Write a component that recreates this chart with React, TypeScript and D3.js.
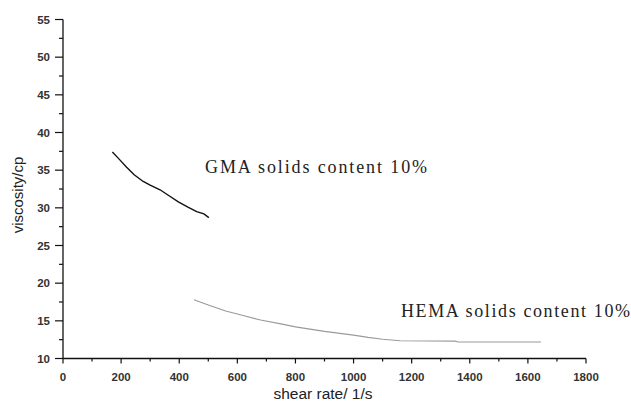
import { useEffect, useRef } from "react";
import * as d3 from "d3";

// values
const gmaShear = [170, 190, 219, 245, 276, 300, 334, 365, 397, 430, 460, 485, 502];
const gmaVisc = [37.4, 36.6, 35.4, 34.4, 33.5, 33.0, 32.4, 31.6, 30.8, 30.1, 29.5, 29.2, 28.7];

const hemaShear = [451, 500, 560, 620, 680, 750, 800, 900, 1000, 1050, 1100, 1160, 1350, 1360, 1645];
const hemaVisc = [17.8, 17.1, 16.3, 15.7, 15.1, 14.6, 14.2, 13.6, 13.1, 12.8, 12.55, 12.35, 12.3, 12.2, 12.2];

const xTicks = [0, 200, 400, 600, 800, 1000, 1200, 1400, 1600, 1800];
const yTicks = [10, 15, 20, 25, 30, 35, 40, 45, 50, 55];

const gmaLabel = "GMA solids content 10%";
const hemaLabel = "HEMA solids content 10%";

const App = () => {
    const svgRef = useRef<SVGSVGElement>(null);

    useEffect(() => {
        const svg = d3.select(svgRef.current);
        svg.selectAll("*").remove();

        const x = d3.scaleLinear().domain([0, 1800]).range([63, 586]);
        const y = d3.scaleLinear().domain([10, 55]).range([358.5, 19.5]);
        const axisFont = "Arial, 'Liberation Sans', sans-serif";

        // x axis: minor every 100, labels every 200, ticks pointing down
        const xa = svg.append("g").attr("transform", `translate(0,${y(10)})`);
        xa.append("line").attr("x1", x(0)).attr("x2", x(1800)).attr("stroke", "#111").attr("stroke-width", 1.3);
        d3.range(0, 1801, 100).forEach((v) => {
            const major = v % 200 === 0;
            xa.append("line")
                .attr("x1", x(v)).attr("x2", x(v))
                .attr("y1", 0).attr("y2", major ? 5 : 3)
                .attr("stroke", "#111").attr("stroke-width", 1.2);
        });
        xTicks.forEach((v) => {
            xa.append("text")
                .attr("x", x(v)).attr("y", 22)
                .attr("text-anchor", "middle")
                .attr("font-family", axisFont).attr("font-size", 11.5)
                .attr("font-weight", 600)
                .attr("fill", "#333")
                .text(v);
        });

        // y axis: minor every 2.5, labels every 5, ticks pointing left
        const ya = svg.append("g").attr("transform", `translate(${x(0)},0)`);
        ya.append("line").attr("y1", y(10)).attr("y2", y(55)).attr("stroke", "#111").attr("stroke-width", 1.3);
        d3.range(10, 55.1, 2.5).forEach((v) => {
            const major = v % 5 === 0;
            ya.append("line")
                .attr("y1", y(v)).attr("y2", y(v))
                .attr("x1", major ? -8 : -4).attr("x2", 0)
                .attr("stroke", "#111").attr("stroke-width", 1.2);
        });
        yTicks.forEach((v) => {
            ya.append("text")
                .attr("x", -13).attr("y", y(v) + 4)
                .attr("text-anchor", "end")
                .attr("font-family", axisFont).attr("font-size", 11.5)
                .attr("font-weight", 600)
                .attr("fill", "#333")
                .text(v);
        });

        // axis titles
        svg.append("text")
            .attr("transform", `translate(23,195) rotate(-90)`)
            .attr("text-anchor", "middle")
            .attr("font-family", axisFont).attr("font-size", 15)
            .attr("fill", "#222")
            .text("viscosity/cp");
        svg.append("text")
            .attr("x", 323).attr("y", 399)
            .attr("text-anchor", "middle")
            .attr("font-family", axisFont).attr("font-size", 15.5)
            .attr("fill", "#222")
            .text("shear rate/ 1/s");

        const line = d3.line<[number, number]>()
            .x((d) => x(d[0]))
            .y((d) => y(d[1]))
            .curve(d3.curveLinear);

        svg.append("path")
            .attr("d", line(gmaShear.map((s, i) => [s, gmaVisc[i]]) as [number, number][]))
            .attr("fill", "none")
            .attr("stroke", "#111")
            .attr("stroke-width", 1.4);

        svg.append("path")
            .attr("d", line(hemaShear.map((s, i) => [s, hemaVisc[i]]) as [number, number][]))
            .attr("fill", "none")
            .attr("stroke", "#9a9a9a")
            .attr("stroke-width", 1.1);

        // curve annotations
        const labelFont = "'Liberation Serif', 'DejaVu Serif', serif";
        svg.append("text")
            .attr("x", 205).attr("y", 173)
            .attr("font-family", labelFont).attr("font-size", 18)
            .attr("textLength", 222).attr("lengthAdjust", "spacing")
            .attr("fill", "#222")
            .text(gmaLabel);
        svg.append("text")
            .attr("x", 401).attr("y", 317)
            .attr("font-family", labelFont).attr("font-size", 18)
            .attr("textLength", 229).attr("lengthAdjust", "spacing")
            .attr("fill", "#222")
            .text(hemaLabel);
    }, []);

    return (
        <svg
            ref={svgRef}
            width={631}
            height={410}
            style={{ position: "absolute", left: 0, top: 0, background: "#fff" }}
        />
    );
};

export default App;
